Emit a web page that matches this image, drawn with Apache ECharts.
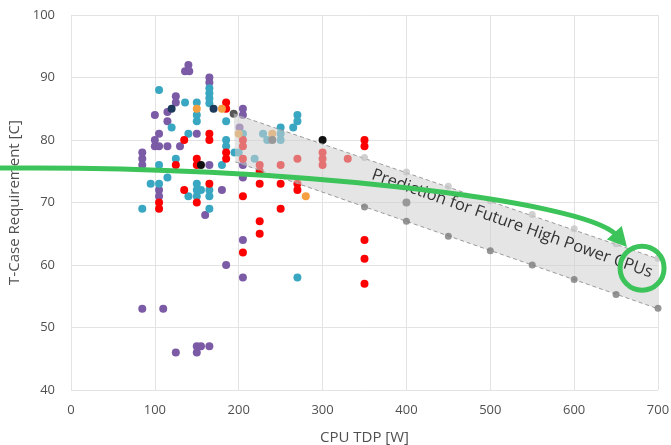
<!DOCTYPE html>
<html>
<head>
<meta charset="utf-8">
<script src="https://cdn.jsdelivr.net/npm/echarts@6/dist/echarts.min.js"></script>
<style>html,body{margin:0;padding:0;background:#fff}#c{width:671px;height:445px}</style>
</head>
<body>
<div id="c"></div>
<script>
// ---- data (CPU TDP [W], T-Case [C]) ----
const xTicks = [0,100,200,300,400,500,600,700];
const yTicks = [40,50,60,70,80,90,100];

const purplePts = [[140,92],[136,91],[141,91],[165,90],[165,89.2],[125,87],[125,86],
  [115,84.5],[100,84],[115,83],[105,81],[150,81],[100,80],[100,79],[105,79],[115,79],[130,79],
  [85,78],[85,77],[85,76],[165,76],[205,85],[205,84],[201,82],[205,76],[205,74],
  [105,72],[105,71],[180,72],[160,68],[205,64],[185,60],[205,58],
  [85,53],[110,53],[150,47],[155,47],[165,47],[125,46],[150,46]];
const tealPts = [[105,88],[165,88.3],[165,87.5],[165,86.7],[165,85.9],[136,86],[150,86],[150,84],[150,83],
  [120,82],[185,83],[140,81],[185,80],[185,79],[125,77],[105,76],[180,76],
  [115,74],[150,73],[95,73],[105,73],[150,72],[155,72],[165,72],[140,71],[150,71],[165,71],
  [85,69],[165,69],[270,58],[270,84],[270,83],[265,82],
  [205,81],[195,78],[200,78],[229,81],[234,80],[250,82],[250,81],[250,80],[219,77]];
const redPts = [[185,86],[185,85],[165,81],[165,80],[135,80],[185,78],[185,77],
  [125,76],[150,77],[150,76],[165,73],[135,72],[150,70],[105,70],[105,69],
  [205,71],[225,73],[250,73],[270,73],[270,72],[250,69],[225,67],[225,65],[205,62],
  [350,80],[350,79],[350,64],[350,61],[350,57],
  [205,80],[205,79],[205,77],[225,76],[225,75],[250,76],[270,77],[300,78],[300,77],[300,76],[330,77]];
const orangePts = [[150,85],[180,85],[200,81],[240,81],[280,71]];
const navyPts = [[120,85],[170,85]];
const blackPts = [[155,76],[300,80]];
const grayPts = [[194,84.2],[240,80],[400,70]];

// prediction band
const bandPolygon = [[194,84.2],[700,61],[700,53],[196,76.5]];
const bandUpper = [[194,84.2],[700,61]];
const bandLower = [[196,76.5],[700,53]];
const upperDots = [[350,77.2],[400,74.9],[450,72.6],[500,70.3],[550,68.1],[600,65.8],[650,63.4],[700,61.1]];
const lowerDots = [[350,69.3],[400,67],[450,64.6],[500,62.3],[550,60],[600,57.7],[650,55.3],[700,53.1]];

// annotation anchors (data coords)
const arrowCurve = [[-85,75.5],[249,76],[613,70.4],[663,62.9]];
const circleCenter = [681,59.5];
const labelAnchor = [526,66.6];
const labelText = 'Prediction for Future High Power CPUs';

const chart = echarts.init(document.getElementById('c'), null, {renderer:'canvas'});
const font = '"Open Sans", "Liberation Sans", sans-serif';
const mk = (name, data, color) => ({
  type:'scatter', name, data, symbolSize:8, z:2,
  itemStyle:{color, opacity:1}
});
chart.setOption({
  animation:false,
  grid:{left:71,right:13,top:15,bottom:55,containLabel:false,outerBoundsMode:'none'},
  xAxis:{type:'value',min:xTicks[0],max:xTicks[xTicks.length-1],interval:100,
    name:'CPU TDP [W]',nameLocation:'middle',nameGap:40,
    nameTextStyle:{fontSize:15,color:'#505050',fontFamily:font},
    axisLine:{show:false},axisTick:{show:false},
    axisLabel:{fontSize:13,color:'#505050',margin:14,fontFamily:font},
    splitLine:{show:true,lineStyle:{color:'#e3e3e3',width:1}}},
  yAxis:{type:'value',min:yTicks[0],max:yTicks[yTicks.length-1],interval:10,
    name:'T-Case Requirement [C]',nameLocation:'middle',nameGap:46,
    nameTextStyle:{fontSize:15,color:'#505050',fontFamily:font},
    axisLine:{show:false},axisTick:{show:false},
    axisLabel:{fontSize:13,color:'#505050',margin:16,fontFamily:font},
    splitLine:{show:true,lineStyle:{color:'#e3e3e3',width:1}}},
  series:[
    mk('purple',purplePts,'#7b5aa6'),
    mk('teal',tealPts,'#3aa7c2'),
    mk('red',redPts,'#ff0000'),
    mk('orange',orangePts,'#f4a040'),
    mk('navy',navyPts,'#1d3a5c'),
    mk('black',blackPts,'#111111'),
    mk('gray',grayPts,'#555555'),
    {type:'custom',z:3,silent:true,data:[0],
      renderItem:(params,api)=>({type:'polygon',
        shape:{points:bandPolygon.map(p=>api.coord(p))},
        style:{fill:'rgba(208,208,208,0.55)',stroke:null}})},
    {type:'line',z:4,data:bandUpper,symbol:'none',silent:true,
      lineStyle:{color:'#9a9a9a',width:1,type:[4,3]}},
    {type:'line',z:4,data:bandLower,symbol:'none',silent:true,
      lineStyle:{color:'#9a9a9a',width:1,type:[4,3]}},
    {type:'scatter',z:5,data:upperDots,symbolSize:7,itemStyle:{color:'#c4c4c4'}},
    {type:'scatter',z:5,data:lowerDots,symbolSize:7,itemStyle:{color:'#7a7a7a'}}
  ]
});

const toPx = p => chart.convertToPixel({gridIndex:0}, p);
const c = arrowCurve.map(toPx);
const green = '#3cc35a';
const dx = c[3][0]-c[2][0], dy = c[3][1]-c[2][1];
const L = Math.hypot(dx,dy), ux = dx/L, uy = dy/L;
const hl = 19, hw = 10;
const tip = c[3];
const base = [tip[0]-ux*hl, tip[1]-uy*hl];
const head = [tip, [base[0]-uy*hw, base[1]+ux*hw], [base[0]+uy*hw, base[1]-ux*hw]];
const end = [tip[0]-ux*(hl-3), tip[1]-uy*(hl-3)];
const cc = toPx(circleCenter);
const lt = toPx(labelAnchor);

chart.setOption({graphic:[
  {type:'text',z:100,x:lt[0],y:lt[1],rotation:-19.5*Math.PI/180,
    style:{text:labelText,fontSize:16.5,fill:'#333333',fontFamily:font,align:'center',verticalAlign:'middle'}},
  {type:'bezierCurve',z:101,shape:{x1:c[0][0],y1:c[0][1],cpx1:c[1][0],cpy1:c[1][1],cpx2:c[2][0],cpy2:c[2][1],x2:end[0],y2:end[1]},
    style:{stroke:green,lineWidth:5,fill:null}},
  {type:'polygon',z:101,shape:{points:head},style:{fill:green}},
  {type:'circle',z:101,shape:{cx:cc[0],cy:cc[1],r:22},style:{stroke:green,lineWidth:5,fill:null}}
]});
</script>
</body>
</html>
